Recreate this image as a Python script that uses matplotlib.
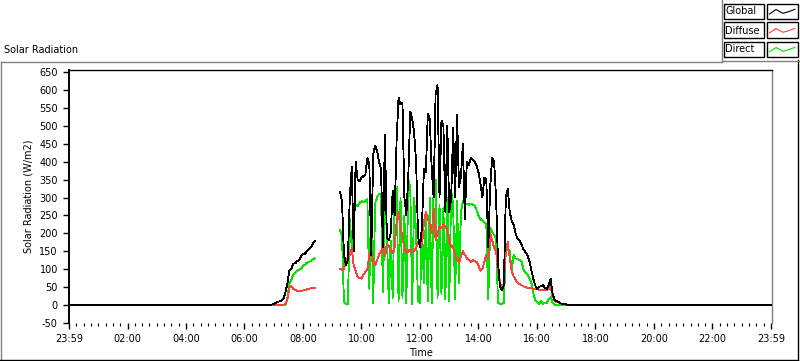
import numpy as np
import matplotlib
matplotlib.use("Agg")
from matplotlib import pyplot as plt
from matplotlib.patches import Rectangle
from matplotlib.lines import Line2D

plt.rcParams['font.family'] = ['DejaVu Sans']
plt.rcParams['font.size'] = 7
plt.rcParams['axes.unicode_minus'] = False

# ---- data (minutes of day) ----
am_start, am_step = 412, 4      # 06:52
pm_start, pm_step = 556, 4      # 09:16

global_am = [0, 1, 2, 5, 8, 10, 12, 16, 35, 60, 95, 100, 115, 116, 122, 126,
             135, 142, 143, 150, 155, 160, 170, 178]
diffuse_am = [0, 0, 0, 0, 0, 0, 0, 0, 2, 15, 48, 52, 45, 42, 38, 40,
              38, 40, 42, 43, 45, 46, 48, 48]
direct_am = [0, 0, 0, 0, 0, 0, 0, 0, 0, 20, 60, 70, 85, 90, 95, 98,
             100, 110, 112, 118, 120, 122, 127, 130]

global_pm = [315, 290, 140, 112, 125, 300, 385, 150, 400, 350,
             345, 355, 360, 365, 410, 395, 140, 420, 445, 430,
             400, 380, 160, 475, 190, 180, 200, 320, 250, 460,
             580, 560, 565, 300, 250, 360, 540, 520, 480, 400,
             190, 160, 220, 380, 370, 534, 520, 380, 300, 590,
             615, 300, 515, 500, 260, 500, 260, 300, 495, 300,
             530, 330, 360, 450, 240, 400, 390, 410, 405, 400,
             390, 370, 340, 300, 355, 350, 160, 330, 410, 400,
             300, 120, 50, 40, 55, 300, 325, 260, 235, 225,
             200, 185, 180, 170, 155, 148, 140, 125, 100, 75,
             55, 45, 50, 52, 55, 48, 45, 55, 72, 30,
             15, 10, 8, 4, 3, 2, 1, 0, 0]
diffuse_pm = [100, 98, 100, 125, 130, 140, 157, 110, 95, 78,
              75, 73, 85, 92, 100, 140, 155, 120, 110, 125,
              140, 150, 160, 135, 170, 165, 150, 145, 160, 230,
              260, 215, 190, 160, 145, 150, 155, 145, 150, 160,
              175, 180, 165, 230, 260, 240, 225, 200, 270, 180,
              200, 220, 215, 225, 220, 210, 175, 165, 160, 140,
              125, 120, 135, 150, 140, 130, 125, 120, 125, 122,
              120, 110, 95, 100, 120, 140, 130, 200, 180, 160,
              150, 95, 65, 40, 60, 150, 175, 130, 95, 80,
              70, 62, 58, 55, 52, 50, 48, 47, 46, 45,
              45, 44, 42, 42, 42, 42, 40, 45, 50, 25,
              12, 8, 6, 4, 3, 2, 1, 0, 0]
direct_pm = [210, 190, 8, 3, 3, 240, 160, 250, 280, 275,
             285, 290, 288, 290, 295, 45, 295, 5, 285, 300,
             310, 308, 35, 310, 200, 5, 180, 20, 300, 330,
             10, 300, 20, 250, 5, 350, 330, 3, 300, 200,
             10, 5, 220, 60, 250, 10, 300, 5, 340, 350,
             20, 280, 30, 270, 15, 300, 10, 320, 280, 15,
             290, 60, 260, 290, 280, 282, 280, 283, 280, 278,
             265, 250, 240, 235, 230, 225, 15, 215, 205, 195,
             185, 5, 3, 3, 5, 150, 158, 150, 95, 140,
             130, 128, 125, 122, 100, 90, 85, 75, 65, 35,
             15, 8, 3, 10, 3, 5, 5, 15, 22, 5,
             0, 0, 0, 0, 0, 0, 0, 0, 0]

tick_labels = ["23:59", "02:00", "04:00", "06:00", "08:00", "10:00", "12:00",
               "14:00", "16:00", "18:00", "20:00", "22:00", "23:59"]
legend_names = ["Global", "Diffuse", "Direct"]
colors = ["#000000", "#ff4040", "#00e600"]


def build(am, pm):
    t_am = am_start + am_step * np.arange(len(am))
    t_pm = pm_start + pm_step * np.arange(len(pm))
    t = np.concatenate([[0], t_am, [t_am[-1] + 1], t_pm, [1440]]) / 60.0
    v = np.concatenate([[0], am, [np.nan], pm, [0]])
    return t, v


W, H = 800, 361
fig = plt.figure(figsize=(W / 100, H / 100), dpi=100)

def fx(x):
    return x / W

def fy(y):
    return 1 - y / H

ax = fig.add_axes([fx(69), fy(322.7), fx(772) - fx(69), fy(69.5) - fy(322.7)])

series = [(global_am, global_pm), (diffuse_am, diffuse_pm), (direct_am, direct_pm)]
zs = [5, 4, 3]
for (am, pm), c, z in zip(series, colors, zs):
    t, v = build(am, pm)
    ax.plot(t, v, color=c, lw=0.6, zorder=z, antialiased=False)

ax.set_xlim(0, 24 * 703 / 702)
ax.set_ylim(-50, 658)
ax.set_yticks(np.arange(-50, 651, 50))
ax.set_xticks(np.arange(0, 25, 2))
ax.set_xticklabels(tick_labels)
ax.set_xticks(np.arange(0, 24.01, 0.25), minor=True)
ax.tick_params(axis='both', which='major', direction='out', length=4.5, width=1, pad=3.5, labelsize=7)
ax.tick_params(axis='x', which='minor', direction='out', length=2.5, width=0.8)
ax.tick_params(axis='y', which='minor', left=False)
for s in ['left', 'top']:
    ax.spines[s].set_color('black')
    ax.spines[s].set_linewidth(1)
ax.spines['left'].set_linewidth(1.4)
ax.spines['right'].set_color('#808080')
ax.spines['right'].set_linewidth(1)
ax.spines['bottom'].set_visible(False)
ax.set_xlabel("Time", fontsize=7, labelpad=3)
ax.set_ylabel("Solar Radiation (W/m2)", fontsize=7, labelpad=4)

# title
fig.text(fx(4), fy(50), "Solar Radiation", fontsize=7, ha='left', va='center')

# outer frame
fig.add_artist(Line2D([fx(0.5), fx(721.5)], [fy(61.5), fy(61.5)], color='#808080', lw=1))
fig.add_artist(Line2D([fx(0.5), fx(0.5)], [fy(61.5), fy(361)], color='#808080', lw=1))
fig.add_artist(Line2D([fx(797.5), fx(797.5)], [fy(60), fy(360)], color='black', lw=1))
fig.add_artist(Line2D([fx(0), fx(798)], [fy(359.5), fy(359.5)], color='black', lw=1))
fig.add_artist(Line2D([fx(721.5), fx(721.5)], [fy(0), fy(61.5)], color='#808080', lw=1))
fig.add_artist(Line2D([fx(721.5), fx(800)], [fy(60.5), fy(60.5)], color='#808080', lw=1))

# legend
row_top = [3.5, 22.5, 41.5]
zig_x = [769.5, 776, 783, 788, 795]
zig_y = [10.5, 6, 9.8, 8.4, 5.8]
for name, c, top in zip(legend_names, colors, row_top):
    h = 15
    fig.add_artist(Rectangle((fx(723.5), fy(top + h)), fx(763.5) - fx(723.5), fy(top) - fy(top + h),
                             facecolor='white', edgecolor='black', lw=1))
    fig.add_artist(Rectangle((fx(767), fy(top + h)), fx(797.5) - fx(767), fy(top) - fy(top + h),
                             facecolor='white', edgecolor='black', lw=1))
    fig.text(fx(725.5), fy(top + h / 2 + 0.5), name, fontsize=7, ha='left', va='center')
    fig.add_artist(Line2D([fx(x) for x in zig_x], [fy(top + y) for y in zig_y], color=c, lw=0.8))

fig.savefig("out.png", dpi=100)
